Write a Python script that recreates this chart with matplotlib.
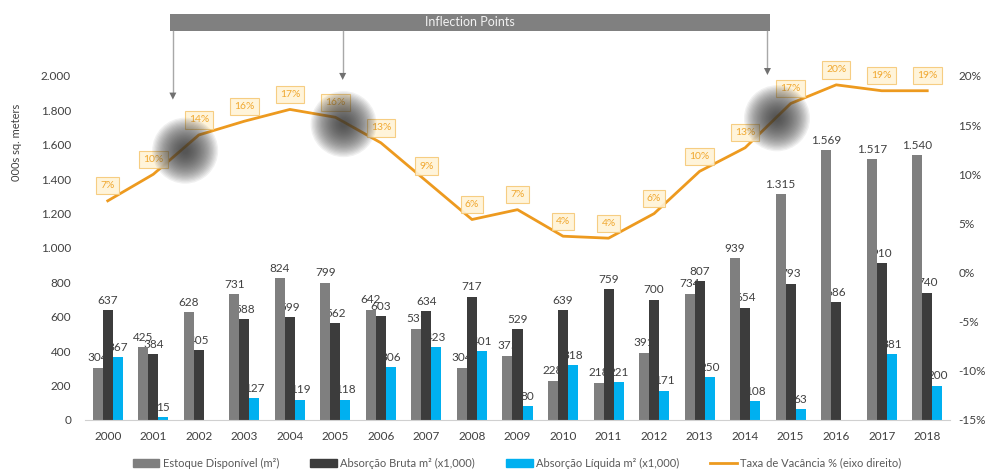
import numpy as np
import matplotlib
matplotlib.use("Agg")
import matplotlib.pyplot as plt
from matplotlib.patches import Circle, Rectangle, Patch
from matplotlib.transforms import IdentityTransform
from matplotlib.lines import Line2D

plt.rcParams['font.family'] = ['Lato', 'DejaVu Sans']

years = ['2000', '2001', '2002', '2003', '2004', '2005', '2006', '2007', '2008', '2009',
         '2010', '2011', '2012', '2013', '2014', '2015', '2016', '2017', '2018']
estoque = [304, 425, 628, 731, 824, 799, 642, 531, 304, 375, 228, 218, 391, 734, 939, 1315, 1569, 1517, 1540]
bruta = [637, 384, 405, 588, 599, 562, 603, 634, 717, 529, 639, 759, 700, 807, 654, 793, 686, 910, 740]
liquida = [367, 15, None, 127, 119, 118, 306, 423, 401, 80, 318, 221, 171, 250, 108, 63, None, 381, 200]
vacancia = [7.3, 10.0, 14.0, 15.4, 16.6, 15.8, 13.2, 9.3, 5.4, 6.4, 3.7, 3.5, 6.0, 10.3, 12.7, 17.2, 19.1, 18.5, 18.5]
vacancia_labels = ['7%', '10%', '14%', '16%', '17%', '16%', '13%', '9%', '6%', '7%',
                   '4%', '4%', '6%', '10%', '13%', '17%', '20%', '19%', '19%']
left_ticks = [0, 200, 400, 600, 800, 1000, 1200, 1400, 1600, 1800, 2000]
right_ticks = [-15, -10, -5, 0, 5, 10, 15, 20]
# inflection highlights (category position, vacancy %) and arrow category positions
blob_x = [1.7, 5.18, 14.7]
blob_y = [12.4, 15.1, 15.7]
arrow_x = [1.43, 5.16, 14.49]
arrow_tip_y = [17.6, 19.6, 20.1]

c_grey = '#7f7f7f'
c_dark = '#3c3c3c'
c_blue = '#00b0f0'
c_orange = '#ed9a1f'
c_text = '#404040'

W, H = 985, 475
fig = plt.figure(figsize=(W / 100, H / 100), dpi=100)
ax = fig.add_axes([85 / W, 1 - 420 / H, (950 - 85) / W, (420 - 76) / H])
ax.set_facecolor('none')

x = np.arange(len(years))
bw = 0.22


def fmt(v):
    return f"{v:,}".replace(',', '.')


for off, vals, col in [(-0.22, estoque, c_grey), (0.0, bruta, c_dark), (0.22, liquida, c_blue)]:
    xs = [xi + off for xi, v in zip(x, vals) if v is not None]
    vs = [v for v in vals if v is not None]
    ax.bar(xs, vs, width=bw, color=col, zorder=2)
    for xi, v in zip(xs, vs):
        ax.text(xi, v + 25, fmt(v), ha='center', va='bottom', fontsize=8.5,
                color=c_text, zorder=1.5)

ax.set_xlim(-0.5, len(years) - 0.5)
ax.set_ylim(0, 2000)
ax.set_yticks(left_ticks)
ax.set_yticklabels([fmt(t) for t in left_ticks], fontsize=8.5, color=c_text)
ax.set_xticks(x)
ax.set_xticklabels(years, fontsize=8.5, color=c_text)
ax.tick_params(axis='y', length=0, pad=10)
ax.tick_params(axis='x', length=0, pad=8)
for s in ['top', 'right', 'left']:
    ax.spines[s].set_visible(False)
ax.spines['bottom'].set_color('#d0d0d0')

ax2 = ax.twinx()
ax2.set_ylim(-15, 20)
ax2.set_yticks(right_ticks)
ax2.set_yticklabels([f"{t}%" for t in right_ticks], fontsize=8.5, color=c_text)
ax2.tick_params(length=0, pad=6)
for s in ax2.spines.values():
    s.set_visible(False)
ax2.plot(x, vacancia, color=c_orange, lw=2, zorder=3, clip_on=False)
for xi, v, lab in zip(x, vacancia, vacancia_labels):
    ax2.annotate(lab, (xi, v), xytext=(0, 15), textcoords='offset pixels',
                 ha='center', va='center', fontsize=7.5, color='#f0a830', zorder=5,
                 annotation_clip=False,
                 bbox=dict(boxstyle='square,pad=0.4', fc='#fff3d6', ec='#f6c977', lw=0.8, alpha=0.9))

# blurred highlight blobs at inflection points
for bx, by in zip(blob_x, blob_y):
    px, py = ax2.transData.transform((bx, by))
    n = 24
    for k in range(n):
        r = 31 * (1 - k / n) + 2
        fig.add_artist(Circle((px, py), r, transform=IdentityTransform(),
                              fc='#3a3a3a', ec='none', alpha=0.07, zorder=4))

# Inflection Points banner
fig.add_artist(Rectangle((170, H - 31), 600, 17, transform=IdentityTransform(),
                         fc='#808080', ec='none', zorder=6))
fig.text(470 / W, 1 - 22 / H, 'Inflection Points', ha='center', va='center',
         fontsize=9, color='#f2f2f2', zorder=7)
for axx, ty in zip(arrow_x, arrow_tip_y):
    px, py = ax2.transData.transform((axx, ty))
    fig.add_artist(Line2D([px, px], [H - 31, py + 5], transform=IdentityTransform(),
                          color='#a8a8a8', lw=1, zorder=6))
    fig.add_artist(plt.Polygon([[px - 3.5, py + 7], [px + 3.5, py + 7], [px, py]],
                               closed=True, transform=IdentityTransform(),
                               fc='#707070', ec='none', zorder=6))

fig.text(17 / W, 1 - 142 / H, '000s sq. meters', rotation=90, ha='center', va='center',
         fontsize=8, color=c_text)

handles = [Patch(color=c_grey), Patch(color=c_dark), Patch(color=c_blue),
           Line2D([0], [0], color=c_orange, lw=2)]
labels = ['Estoque Disponível (m²)', 'Absorção Bruta m² (x1,000)',
          'Absorção Líquida m² (x1,000)', 'Taxa de Vacância % (eixo direito)']
leg = fig.legend(handles, labels, loc='center', bbox_to_anchor=(517 / W, 1 - 463 / H),
                 ncol=4, frameon=False, fontsize=8, handlelength=2.4, handleheight=0.7,
                 columnspacing=2.8, handletextpad=0.3)
for t in leg.get_texts():
    t.set_color('#595959')

fig.savefig('out.png', dpi=100)
